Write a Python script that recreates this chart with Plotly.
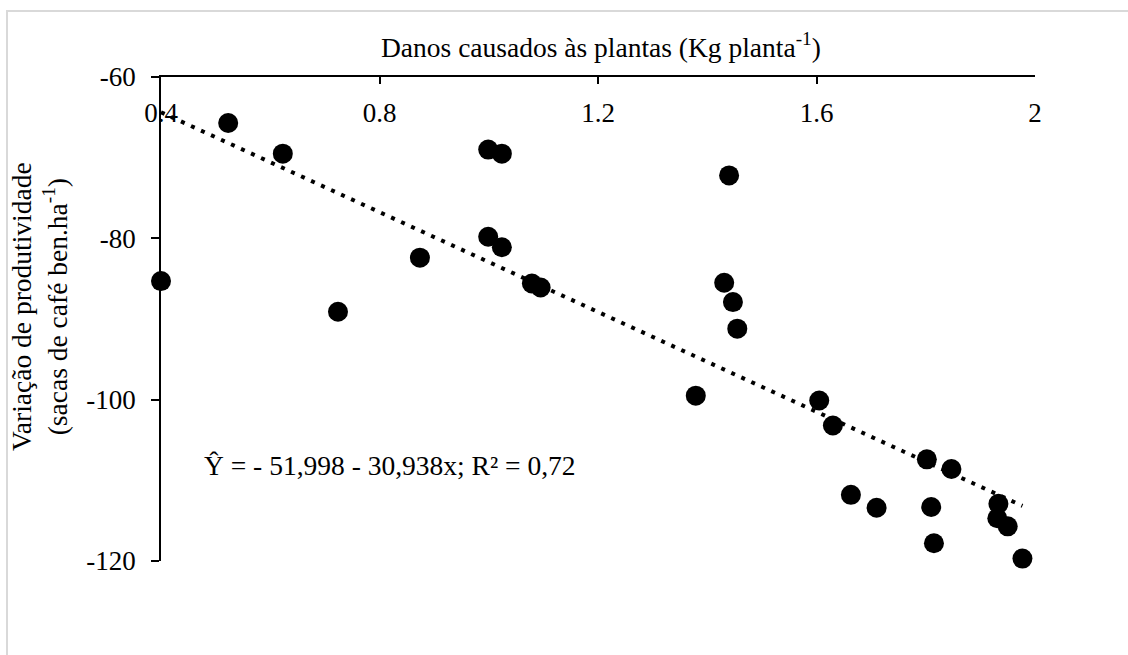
import numpy as np
import plotly.graph_objects as go

# ---------------- data ----------------
damage = [0.400, 0.523, 0.623, 0.724, 0.874, 0.999, 1.024, 0.999, 1.024, 1.079,
          1.095, 1.440, 1.431, 1.447, 1.455, 1.379, 1.605, 1.630, 1.663, 1.710,
          1.802, 1.847, 1.810, 1.815, 1.933, 1.931, 1.950, 1.977]
yield_var = [-85.3, -65.7, -69.5, -89.1, -82.4, -69.0, -69.5, -79.8, -81.1, -85.6,
             -86.1, -72.2, -85.5, -87.9, -91.2, -99.5, -100.1, -103.2, -111.8, -113.4,
             -107.4, -108.6, -113.3, -117.8, -112.9, -114.7, -115.7, -119.7]

intercept = -51.998
slope = -30.938

x_ticks = [0.4, 0.8, 1.2, 1.6, 2.0]
x_tick_text = ["0.4", "0.8", "1.2", "1.6", "2"]
y_ticks = [-60, -80, -100, -120]
y_tick_text = ["-60", "-80", "-100", "-120"]

x_title = "Danos causados às plantas (Kg planta<sup>-1</sup>)"
y_title = "Variação de produtividade<br>(sacas de café ben.ha<sup>-1</sup>)"
equation = "Ŷ = - 51,998 - 30,938x; R² = 0,72"

# ---------------- layout geometry ----------------
W, H = 1128, 655
L, R, T, B = 161, 1035, 77, 561   # plot area in pixels


def px(xp):
    return (xp - L) / (R - L)


def py(yp):
    return (B - yp) / (B - T)


FONT = "Liberation Serif"
FS = 27
FA = 27.5

trend_x = np.array([min(damage), max(damage)])
trend_y = intercept + slope * trend_x

fig = go.Figure()
fig.add_trace(go.Scatter(
    x=damage, y=yield_var, mode="markers", cliponaxis=False,
    marker=dict(size=20, color="black", line=dict(width=0)),
    showlegend=False, hoverinfo="x+y"))
fig.add_trace(go.Scatter(
    x=trend_x, y=trend_y, mode="lines", cliponaxis=False,
    line=dict(color="black", width=4, dash="4px,7px"),
    showlegend=False, hoverinfo="skip"))

fig.update_layout(
    width=W, height=H,
    margin=dict(l=L, r=W - R, t=T, b=H - B, pad=0),
    paper_bgcolor="white", plot_bgcolor="white",
    font=dict(family=FONT, size=FS, color="black"),
    xaxis=dict(
        side="top", range=[0.4, 2.0], tickvals=x_ticks, ticktext=x_tick_text,
        ticks="inside", ticklen=7, tickwidth=1.5, tickcolor="black",
        ticklabelposition="inside", ticklabeloverflow="allow", ticklabelstandoff=22,
        showline=True, linecolor="black", linewidth=1.5,
        showgrid=False, zeroline=False,
        tickfont=dict(family=FONT, size=FS, color="black"),
    ),
    yaxis=dict(
        range=[-120, -60], tickvals=y_ticks, ticktext=y_tick_text,
        ticks="outside", ticklen=8, tickwidth=1.5, tickcolor="black",
        ticklabelstandoff=10,
        showline=True, linecolor="black", linewidth=1.5,
        showgrid=False, zeroline=False,
        tickfont=dict(family=FONT, size=FS, color="black"),
    ),
    shapes=[dict(
        type="path", xref="paper", yref="paper",
        path=f"M {px(7)} {py(700)} L {px(7)} {py(11)} L {px(1140)} {py(11)}",
        line=dict(color="#d9d9d9", width=2),
    )],
    annotations=[
        dict(text=x_title, xref="paper", yref="paper", x=px(601), y=py(45),
             xanchor="center", yanchor="middle", showarrow=False,
             font=dict(family=FONT, size=FA, color="black")),
        dict(text=y_title, xref="paper", yref="paper", x=px(39), y=py(307),
             xanchor="center", yanchor="middle", showarrow=False, textangle=-90,
             font=dict(family=FONT, size=FA, color="black")),
        dict(text=equation, xref="paper", yref="paper", x=px(390), y=py(466),
             xanchor="center", yanchor="middle", showarrow=False,
             font=dict(family=FONT, size=FA, color="black")),
    ],
)

fig.write_html("out.html")
